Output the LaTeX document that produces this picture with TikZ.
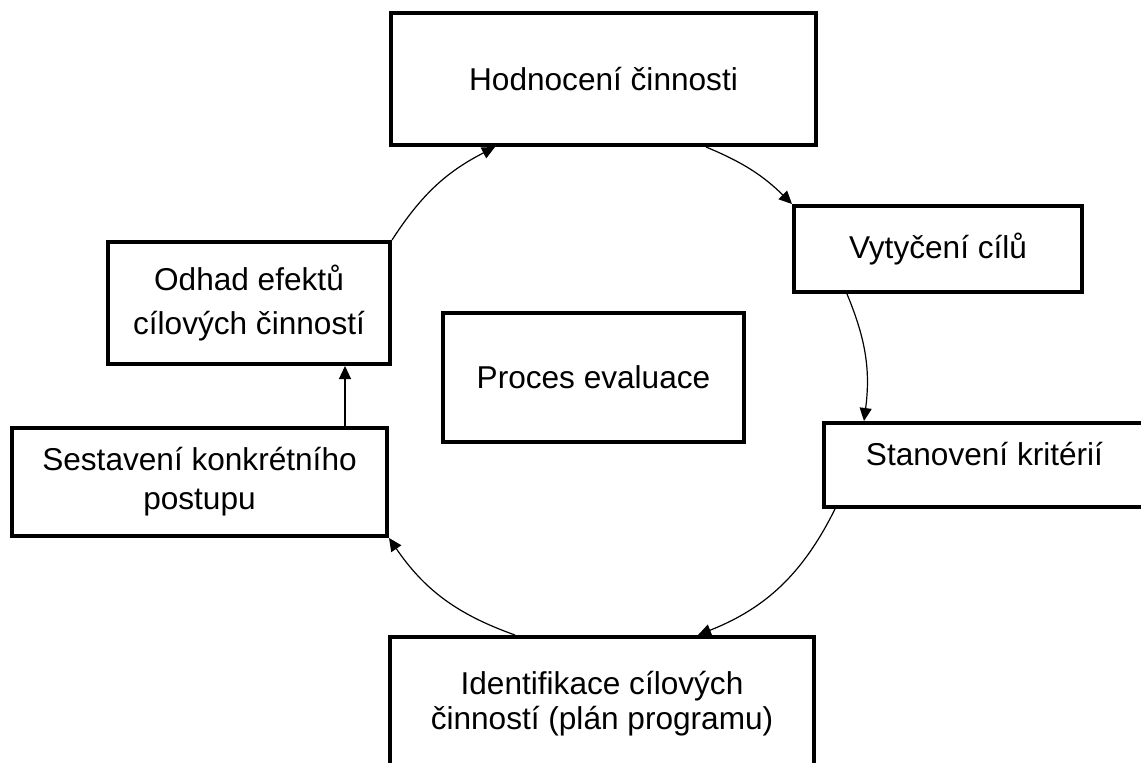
\documentclass[tikz,border=0pt]{standalone}
\usepackage{fontspec}
\setmainfont{Liberation Sans}
\usetikzlibrary{arrows.meta,calc}
\begin{document}
\begin{tikzpicture}[x=1pt,y=-1pt,
  box/.style={draw,line width=4pt,rectangle,inner sep=0pt,align=center,font=\fontsize{31.6}{40}\selectfont},
  conn/.style={line width=1.2pt,-{Triangle[length=13pt,width=12pt]}}]
\useasboundingbox (0,0) rectangle (1141,763);
\clip (0,0) rectangle (1141,763);
\node[box,minimum width=425pt,minimum height=132pt] (hod) at (603.5,79) {Hodnocení činnosti};
\node[box,minimum width=288pt,minimum height=86pt] (vyt) at (938,249) {Vytyčení cílů};
\node[box,minimum width=321pt,minimum height=84pt,text height=22pt,text depth=22pt] (sta) at (984.5,465) {Stanovení kritérií};
\node[box,minimum width=424pt,minimum height=133pt,font=\fontsize{31.6}{35}\selectfont] (ide) at (602,703.5) {Identifikace cílových\\činností (plán programu)};
\node[box,minimum width=375pt,minimum height=108pt,font=\fontsize{31.6}{39}\selectfont] (ses) at (199.5,482) {Sestavení konkrétního\\postupu};
\node[box,minimum width=282pt,minimum height=122pt,font=\fontsize{31.6}{44}\selectfont] (odh) at (249,303) {Odhad efektů\\cílových činností};
\node[box,minimum width=301pt,minimum height=129pt] (pro) at (593.5,377.5) {Proces evaluace};
\draw[conn] ($(hod.south west)+(317,0)$) to[bend left=11] (vyt.north west);
\draw[conn] ($(vyt.south west)+(55,0)$) to[bend left=15] ($(sta.north west)+(42,0)$);
\draw[conn] ($(sta.south west)+(13,0)$) to[bend left=21] ($(ide.north west)+(310,0)$);
\draw[conn] ($(ide.north west)+(127,0)$) to[bend left=18] (ses.south east);
\draw[conn] ($(ses.north west)+(335,0)$) -- ($(odh.south west)+(239,0)$);
\draw[conn] (odh.north east) to[bend left=15] ($(hod.south west)+(106,0)$);
\end{tikzpicture}
\end{document}
